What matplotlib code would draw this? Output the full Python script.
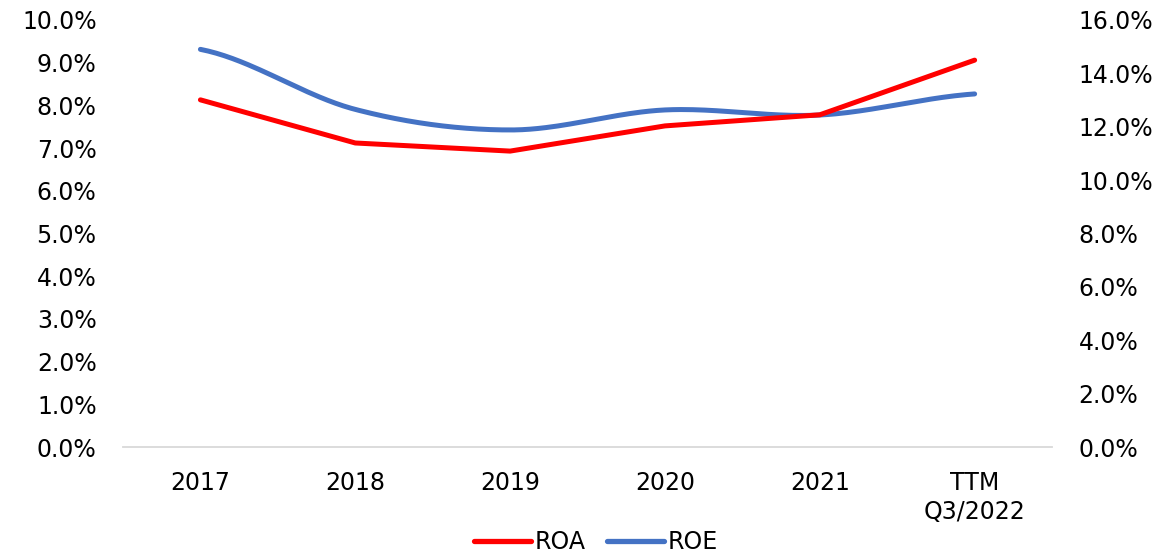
import numpy as np
import matplotlib
matplotlib.use("Agg")
import matplotlib.pyplot as plt
from matplotlib.ticker import FuncFormatter, MultipleLocator

categories = ["2017", "2018", "2019", "2020", "2021", "TTM\nQ3/2022"]
roa = [8.13, 7.12, 6.93, 7.52, 7.78, 9.06]
roe = [14.90, 12.65, 11.88, 12.63, 12.44, 13.23]

RED = "#FF0000"
BLUE = "#4472C4"

plt.rcParams["font.family"] = ["DejaVu Sans"]


def catmull_rom(xs, ys, n=40):
    xs = np.asarray(xs, float)
    ys = np.asarray(ys, float)
    px = np.concatenate([[2 * xs[0] - xs[1]], xs, [2 * xs[-1] - xs[-2]]])
    py = np.concatenate([[ys[0]], ys, [ys[-1]]])
    outx, outy = [], []
    for i in range(1, len(px) - 2):
        p0, p1, p2, p3 = (np.array([px[j], py[j]]) for j in range(i - 1, i + 3))
        c1 = p1 + (p2 - p0) / 6.0
        c2 = p2 - (p3 - p1) / 6.0
        t = np.linspace(0, 1, n)[:, None]
        pts = ((1 - t) ** 3) * p1 + 3 * ((1 - t) ** 2) * t * c1 + 3 * (1 - t) * t ** 2 * c2 + t ** 3 * p2
        if i > 1:
            pts = pts[1:]
        outx.extend(pts[:, 0])
        outy.extend(pts[:, 1])
    return np.array(outx), np.array(outy)


fig = plt.figure(figsize=(11.76, 5.54), dpi=100)
ax = fig.add_axes([0.1046, 0.1931, 0.7900, 0.7708])
ax2 = ax.twinx()

x = np.arange(len(categories))
l1, = ax.plot(x, roa, color=RED, lw=3.6, solid_capstyle="round", solid_joinstyle="round", label="ROA", zorder=3)
sx, sy = catmull_rom(x, roe)
l2, = ax2.plot(sx, sy, color=BLUE, lw=3.6, solid_capstyle="round", label="ROE", zorder=3)

ax.set_xlim(-0.5, len(categories) - 0.5)
ax.set_ylim(0, 10)
ax2.set_ylim(0, 16)
ax.yaxis.set_major_locator(MultipleLocator(1))
ax2.yaxis.set_major_locator(MultipleLocator(2))
fmt = FuncFormatter(lambda v, p: f"{v:.1f}%")
ax.yaxis.set_major_formatter(fmt)
ax2.yaxis.set_major_formatter(fmt)

for a in (ax, ax2):
    for s in a.spines.values():
        s.set_visible(False)
ax.spines["bottom"].set_visible(True)
ax.spines["bottom"].set_color("#D9D9D9")
ax.spines["bottom"].set_linewidth(1.3)

ax.set_xticks(x)
ax.set_xticklabels(categories, fontsize=17, linespacing=1.3)
ax.tick_params(axis="x", length=0, pad=17, colors="black")
ax.tick_params(axis="y", length=0, pad=19, labelsize=17)
ax2.tick_params(axis="y", length=0, pad=19, labelsize=17)
ax.set_zorder(ax2.get_zorder() + 1)
ax.patch.set_visible(False)

leg = fig.legend([l1, l2], ["ROA", "ROE"], loc="center", bbox_to_anchor=(0.5068, 0.0217),
                 ncol=2, frameon=False, handlelength=2.4, handletextpad=0.17, columnspacing=0.9,
                 borderpad=0.0, prop=dict(size=17))
for h in leg.legend_handles:
    h.set_linewidth(3.8)

fig.savefig("out.png", dpi=100)
